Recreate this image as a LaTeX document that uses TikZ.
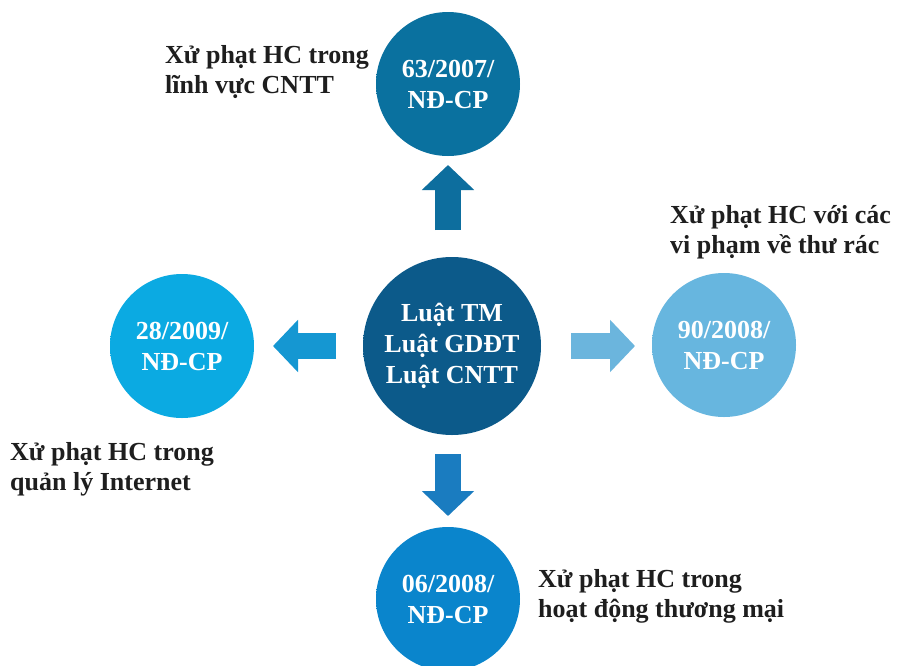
\documentclass[tikz,border=0pt]{standalone}
\usepackage{fontspec}
\setmainfont{Liberation Serif}
\usetikzlibrary{arrows.meta}
\definecolor{cTop}{HTML}{0A719F}
\definecolor{cTopD}{HTML}{075478}
\definecolor{cMid}{HTML}{0C5A8A}
\definecolor{cMidD}{HTML}{08405F}
\definecolor{cLeft}{HTML}{0BAAE2}
\definecolor{cLeftD}{HTML}{0A85B5}
\definecolor{cRight}{HTML}{67B6DF}
\definecolor{cRightD}{HTML}{4C97BF}
\definecolor{cBot}{HTML}{0A85CC}
\definecolor{cBotD}{HTML}{0866A0}
\definecolor{aTop}{HTML}{0D6E9E}
\definecolor{aLeft}{HTML}{1597D2}
\definecolor{aRight}{HTML}{6BB5DD}
\definecolor{aBot}{HTML}{1A7CC0}
\definecolor{txt}{HTML}{1E1E1E}
\pgfdeclareradialshading{sTop}{\pgfpoint{0bp}{0bp}}{color(0bp)=(cTop); color(44bp)=(cTop); color(50bp)=(cTopD); color(52bp)=(cTopD)}
\pgfdeclareradialshading{sMid}{\pgfpoint{0bp}{0bp}}{color(0bp)=(cMid); color(44bp)=(cMid); color(50bp)=(cMidD); color(52bp)=(cMidD)}
\pgfdeclareradialshading{sLeft}{\pgfpoint{0bp}{0bp}}{color(0bp)=(cLeft); color(44bp)=(cLeft); color(50bp)=(cLeftD); color(52bp)=(cLeftD)}
\pgfdeclareradialshading{sRight}{\pgfpoint{0bp}{0bp}}{color(0bp)=(cRight); color(44bp)=(cRight); color(50bp)=(cRightD); color(52bp)=(cRightD)}
\pgfdeclareradialshading{sBot}{\pgfpoint{0bp}{0bp}}{color(0bp)=(cBot); color(44bp)=(cBot); color(50bp)=(cBotD); color(52bp)=(cBotD)}
\begin{document}
\begin{tikzpicture}[x=1pt,y=-1pt,
  bub/.style={circle, minimum size=144pt, inner sep=0pt, text=white, align=center,
    font=\bfseries\fontsize{26}{31}\selectfont},
  lab/.style={anchor=base west, inner sep=0pt, align=left, text=txt,
    font=\bfseries\fontsize{26}{30}\selectfont},
  arr/.style={line width=26pt, -{Triangle[width=51pt,length=25pt]}}]
\useasboundingbox (0,0) rectangle (900,665);
\fill[white] (0,0) rectangle (900,665);
% circles
\node[bub, shade, shading=sTop] (top) at (448,84) {63/2007/\\NĐ-CP};
\node[bub, shade, shading=sMid, minimum size=178pt] (mid) at (452,346) {Luật TM\\Luật GDĐT\\Luật CNTT};
\node[bub, shade, shading=sLeft] (left) at (182,346) {28/2009/\\NĐ-CP};
\node[bub, shade, shading=sRight] (right) at (724,345) {90/2008/\\NĐ-CP};
\node[bub, shade, shading=sBot] (bot) at (448,599) {06/2008/\\NĐ-CP};
% arrows
\coordinate (ta1) at (448,230); \coordinate (ta2) at (448,165);
\coordinate (la1) at (336,346); \coordinate (la2) at (273,346);
\coordinate (ra1) at (571,346); \coordinate (ra2) at (635,346);
\coordinate (ba1) at (448,454); \coordinate (ba2) at (448,516);
\draw[arr, aTop] (ta1) -- (ta2);
\draw[arr, aLeft] (la1) -- (la2);
\draw[arr, aRight] (ra1) -- (ra2);
\draw[arr, aBot] (ba1) -- (ba2);
% labels (anchor = baseline of the last line)
\node[lab] (ltop) at (165,93) {Xử phạt HC trong\\lĩnh vực CNTT};
\node[lab] (lright) at (670,253) {Xử phạt HC với các\\vi phạm về thư rác};
\node[lab] (lleft) at (10,490) {Xử phạt HC trong\\quản lý Internet};
\node[lab] (lbot) at (538,617) {Xử phạt HC trong\\hoạt động thương mại};
\end{tikzpicture}
\end{document}
